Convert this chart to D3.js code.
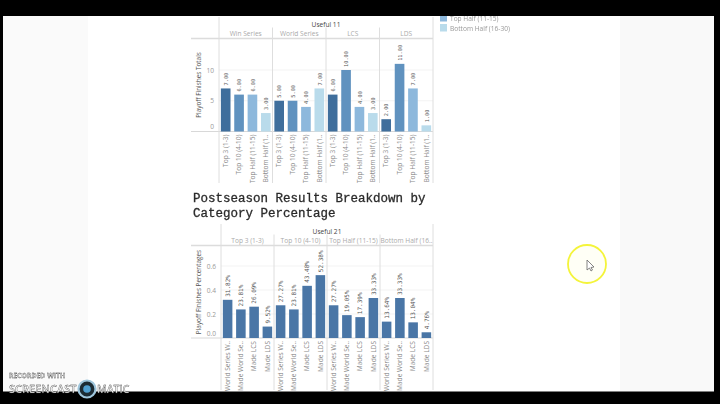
<!Doctype html>
<head>
  <meta charset="utf-8">
  <title>Postseason results</title>
  <style>
  body{margin:0;background:#fff;overflow:hidden;}
  svg{display:block;}
  text{font-family:"Open Sans",sans-serif;}
  #page{filter:blur(0.5px);}
  </style>
</head>
<body>
  <div id="container"></div>
  <script src="https://cdn.jsdelivr.net/npm/d3@7"></script>
  <script>
  // top chart
  var stages = ["Win Series","World Series","LCS","LDS"];
  var tiers = ["Top 3 (1-3)","Top 10 (4-10)","Top Half (11-15)","Bottom Half (1.."];
  var totals = [
    [7,6,6,3],
    [5,5,4,7],
    [6,10,4,3],
    [2,11,7,1]
  ];
  var topTicks = [0,5,10];

  // bottom chart
  var groups = ["Top 3 (1-3)","Top 10 (4-10)","Top Half (11-15)","Bottom Half (16.."];
  var madeLabels = ["World Series W..","Made World Se..","Made LCS","Made LDS"];
  var percents = [
    [31.82,23.81,26.09,9.52],
    [27.27,23.81,43.48,52.38],
    [27.27,19.05,17.39,33.33],
    [13.64,33.33,13.04,4.76]
  ];
  var bottomTicks = [0,0.2,0.4,0.6];

  var titleLines = ["Postseason Results Breakdown by","Category Percentage"];
  var legendItems = ["Top Half (11-15)","Bottom Half (16-30)"];
  var tierColors = ["#3f6e9c","#6092bf","#8db8dc","#b9dbeb"];
  var barBlue = "#4a76a6";

  var svg = d3.select("#container").append("svg").attr("width",720).attr("height",404);
  var page = svg.append("g").attr("id","page");

  // page background, faint grey side margins
  page.append("rect").attr("width",720).attr("height",404).attr("fill","#fff");
  page.append("rect").attr("width",88).attr("height",404).attr("fill","#fafafa");
  page.append("rect").attr("x",620).attr("width",94).attr("height",404).attr("fill","#f9f9f9");

  function drawPanels(opt){
    var g = page.append("g");
    var x0 = d3.scaleBand().domain(d3.range(4)).range([opt.left,opt.right]);
    var y = d3.scaleLinear().domain(opt.domain).range([opt.base,opt.base-opt.pxRange]);

    // gridlines
    g.selectAll(".grid").data(opt.ticks.slice(1)).enter().append("line")
      .attr("x1",opt.left).attr("x2",opt.right)
      .attr("y1",d=>y(d)).attr("y2",d=>y(d))
      .attr("stroke","#f3f3f3");

    // header rules
    g.append("line").attr("x1",191).attr("x2",opt.right).attr("y1",opt.headY).attr("y2",opt.headY)
      .attr("stroke","#dcdcdc").attr("stroke-width",1.4);
    g.append("line").attr("x1",191).attr("x2",opt.right).attr("y1",opt.base).attr("y2",opt.base)
      .attr("stroke","#d8d8d8");

    // panel separators
    d3.range(5).forEach(function(i){
      var xx = i<4 ? x0(i) : opt.right;
      g.append("line").attr("x1",xx).attr("x2",xx)
        .attr("y1",i==0||i==4 ? opt.top : opt.headY-11).attr("y2",opt.bottom)
        .attr("stroke","#dedede");
    });

    g.append("text").text(opt.title)
      .attr("x",(opt.left+opt.right)/2).attr("y",opt.top+10)
      .attr("text-anchor","middle").attr("font-size",6.6).attr("fill","#444");

    opt.panels.forEach(function(name,i){
      var p = g.append("g").attr("transform","translate("+x0(i)+",0)");
      var x1 = d3.scaleBand().domain(d3.range(4)).range([0,x0.bandwidth()]).paddingInner(0.28).paddingOuter(0.14);

      p.append("text").text(name)
        .attr("x",x0.bandwidth()/2).attr("y",opt.headY-3)
        .attr("text-anchor","middle").attr("font-size",6.6).attr("fill","#aaa");

      opt.values[i].forEach(function(v,j){
        p.append("rect")
          .attr("x",x1(j)).attr("width",x1.bandwidth())
          .attr("y",y(opt.val(v))).attr("height",opt.base-y(opt.val(v)))
          .attr("fill",opt.color(j));

        var cx = x1(j)+x1.bandwidth()/2;
        p.append("text").text(opt.fmt(v))
          .attr("transform","translate("+(cx+2.3)+","+(y(opt.val(v))-3)+") rotate(-90)")
          .style("font-family","'DejaVu Sans Mono'")
          .attr("font-size",opt.valSize).attr("fill","#555");

        p.append("text").text(opt.cats[j])
          .attr("transform","translate("+(cx+2.3)+","+(opt.base+3)+") rotate(-90)")
          .attr("text-anchor","end").attr("font-size",6.6).attr("fill","#8a8a8a");
      });
    });

    // y axis, the zero label sits above the baseline
    var axis = d3.axisLeft(y).tickValues(opt.ticks).tickSize(0).tickFormat(opt.tickFmt);
    var ax = g.append("g").attr("transform","translate("+(opt.left-1)+",0)").call(axis);
    ax.select(".domain").remove();
    ax.selectAll("text").attr("font-size",6.6).attr("fill","#999").attr("dx",-1)
      .attr("dy",d=>d==0 ? "-0.4em" : "0.32em");

    g.append("text").text(opt.yLabel)
      .attr("transform","translate("+opt.yLabelX+","+opt.yLabelY+") rotate(-90)")
      .attr("text-anchor","middle").attr("font-size",6.4).attr("fill","#555");
  }

  drawPanels({
    title:"Useful 11", panels:stages, cats:tiers, values:totals,
    left:219, right:433, top:17, headY:38.5, base:131.5, bottom:183,
    domain:[0,10], pxRange:61.5, ticks:topTicks, tickFmt:d3.format("d"),
    val:d=>d, fmt:d3.format(".2f"), color:j=>tierColors[j], valSize:5.3,
    yLabel:"Playoff Finishes Totals", yLabelX:201, yLabelY:85
  });

  drawPanels({
    title:"Useful 21", panels:groups, cats:madeLabels, values:percents,
    left:221, right:433, top:224, headY:245.5, base:338, bottom:390,
    domain:[0,0.6], pxRange:72, ticks:bottomTicks, tickFmt:d3.format(".1f"),
    val:d=>d/100, fmt:d=>d3.format(".2f")(d)+"%", color:j=>barBlue, valSize:6,
    yLabel:"Playoff Finishes Percentages", yLabelX:201, yLabelY:292
  });

  // section title
  page.selectAll(".title").data(titleLines).enter().append("text")
    .text(d=>d)
    .attr("x",193).attr("y",(d,i)=>202+i*14.5)
    .style("font-family","'Liberation Mono'")
    .attr("font-size",12.5).attr("fill","#2b2b2b").attr("stroke","#2b2b2b").attr("stroke-width",0.3);

  // legend, first row is cut off by the top bar
  legendItems.forEach(function(d,i){
    page.append("rect").attr("x",440).attr("y",14+i*10).attr("width",7).attr("height",7.5)
      .attr("fill",tierColors[i+2]);
    page.append("text").text(d).attr("x",450).attr("y",20.5+i*10)
      .attr("font-size",6.6).attr("fill","#999");
  });

  // video bars
  page.append("rect").attr("width",720).attr("height",16).attr("fill","#000");
  page.append("rect").attr("y",391.5).attr("width",720).attr("height",13).attr("fill","#000");
  page.append("rect").attr("x",714).attr("width",6).attr("height",404).attr("fill","#000");
  page.append("rect").attr("width",3).attr("height",404).attr("fill","#000");

  // cursor highlight
  page.append("circle").attr("cx",587).attr("cy",264).attr("r",19)
    .attr("fill","#fffff6").attr("stroke","#f4f43a").attr("stroke-width",1.8);
  page.append("path").attr("transform","translate(587,260)")
    .attr("d",d3.line()([[0,0],[0,10],[2.5,8],[4,11],[5.5,10],[4,7.5],[7,7],[0,0]]))
    .attr("fill","#fff").attr("stroke","#666").attr("stroke-width",0.8);

  // recorder watermark
  var mark = page.append("g").attr("fill","#fff").attr("stroke","#222").attr("stroke-width",0.3);
  mark.append("text").text("RECORDED WITH").attr("x",9).attr("y",378).attr("font-size",6.8).attr("font-weight",700);
  mark.append("text").text("SCREENCAST").attr("x",9).attr("y",393).attr("font-size",11).attr("font-weight",600);
  mark.append("text").text("MATIC").attr("x",97).attr("y",393).attr("font-size",10.5).attr("font-weight",600);
  page.append("circle").attr("cx",87).attr("cy",389).attr("r",8.5).attr("fill","#1c2b33").attr("stroke","#9fc6dc").attr("stroke-width",2.2);
  page.append("circle").attr("cx",87).attr("cy",389).attr("r",3.8).attr("fill","#4f9fd0");
  </script>
</body>
</html>
